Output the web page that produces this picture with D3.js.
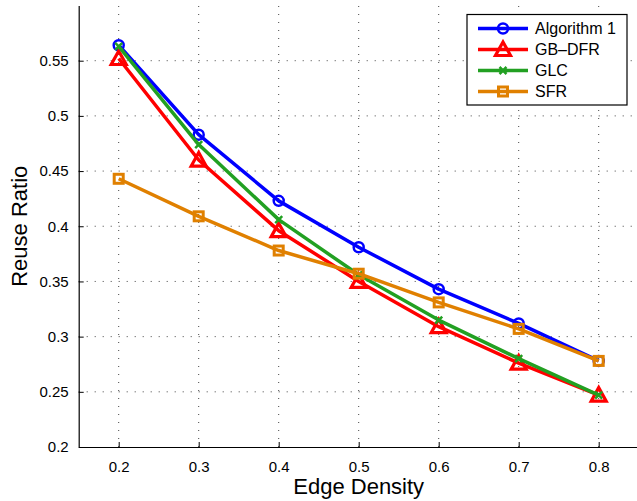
<!DOCTYPE html>
<html>
<head>
<meta charset="utf-8">
<script src="https://cdn.jsdelivr.net/npm/d3@7"></script>
<style>
html,body{margin:0;padding:0;background:#fff;}
svg{display:block;font-family:"Liberation Sans",Arial,Helvetica,sans-serif;}
</style>
</head>
<body>
<svg id="chart" width="637" height="501"></svg>
<script>
const xValues = [0.2, 0.3, 0.4, 0.5, 0.6, 0.7, 0.8];
const algorithm1 = [0.564, 0.483, 0.423, 0.381, 0.343, 0.312, 0.278];
const gbdfr = [0.552, 0.460, 0.396, 0.350, 0.309, 0.276, 0.247];
const glc = [0.563, 0.474, 0.406, 0.356, 0.315, 0.280, 0.247];
const sfr = [0.443, 0.409, 0.378, 0.357, 0.331, 0.307, 0.278];
const seriesNames = ["Algorithm 1", "GB\u2013DFR", "GLC", "SFR"];
const xTicks = [0.2, 0.3, 0.4, 0.5, 0.6, 0.7, 0.8];
const yTicks = [0.2, 0.25, 0.3, 0.35, 0.4, 0.45, 0.5, 0.55];
const xLabel = "Edge Density";
const yLabel = "Reuse Ratio";

const series = [
  {name: seriesNames[0], values: algorithm1, color: "#0000ff", marker: "circle"},
  {name: seriesNames[1], values: gbdfr, color: "#ff0000", marker: "triangle"},
  {name: seriesNames[2], values: glc, color: "#22a022", marker: "x"},
  {name: seriesNames[3], values: sfr, color: "#e08000", marker: "square"}
];

const svg = d3.select("#chart");
const L = 78.7, R = 638.7, T = 5.5, B = 447;
const x = d3.scaleLinear().domain([0.15, 0.85]).range([L, R]);
const y = d3.scaleLinear().domain([0.2, 0.6]).range([B, T]);

// grid
const grid = svg.append("g");
xTicks.forEach(t => {
  grid.append("line").attr("x1", x(t)).attr("x2", x(t)).attr("y1", B).attr("y2", T)
    .attr("stroke", "#444").attr("stroke-width", 1).attr("stroke-dasharray", "1,7");
});
yTicks.slice(1).forEach(t => {
  grid.append("line").attr("x1", L).attr("x2", R).attr("y1", y(t)).attr("y2", y(t))
    .attr("stroke", "#444").attr("stroke-width", 1).attr("stroke-dasharray", "1,7");
});

// axes
const xAxis = d3.axisBottom(x).tickValues(xTicks).tickSizeInner(-5).tickSizeOuter(0).tickPadding(14)
  .tickFormat(d3.format(".1f"));
const yAxis = d3.axisLeft(y).tickValues(yTicks).tickSizeInner(-5).tickSizeOuter(0).tickPadding(10)
  .tickFormat(d => d3.format("")(+d.toFixed(2)));
const gx = svg.append("g").attr("transform", `translate(0,${B})`).call(xAxis);
const gy = svg.append("g").attr("transform", `translate(${L},0)`).call(yAxis);
[gx, gy].forEach(g => {
  g.select(".domain").attr("stroke", "#000").attr("stroke-width", 1.2);
  g.selectAll(".tick line").attr("stroke", "#000");
  g.selectAll(".tick text").attr("font-size", 15).attr("fill", "#000")
    .attr("font-family", "'Liberation Sans',Arial,sans-serif");
});
gx.selectAll(".tick text").attr("dy", "0.71em");

// labels
svg.append("text").attr("x", (L + R) / 2).attr("y", 494).attr("text-anchor", "middle")
  .attr("font-size", 22).text(xLabel);
svg.append("text").attr("transform", `translate(27,${(T + B) / 2}) rotate(-90)`)
  .attr("text-anchor", "middle").attr("font-size", 22).text(yLabel);

function drawMarker(g, type, cx, cy, color) {
  if (type === "circle") {
    g.append("circle").attr("cx", cx).attr("cy", cy).attr("r", 5)
      .attr("fill", "none").attr("stroke", color).attr("stroke-width", 2.5);
  } else if (type === "triangle") {
    const s = 7.5;
    g.append("path").attr("d", `M${cx},${cy - s}L${cx + s},${cy + s * 0.8}L${cx - s},${cy + s * 0.8}Z`)
      .attr("fill", "none").attr("stroke", color).attr("stroke-width", 3.2);
  } else if (type === "x") {
    const s = 3.5;
    g.append("path").attr("d", `M${cx - s},${cy - s}L${cx + s},${cy + s}M${cx - s},${cy + s}L${cx + s},${cy - s}`)
      .attr("fill", "none").attr("stroke", color).attr("stroke-width", 2.5);
  } else if (type === "square") {
    const s = 4.5;
    g.append("rect").attr("x", cx - s).attr("y", cy - s).attr("width", 2 * s).attr("height", 2 * s)
      .attr("fill", "none").attr("stroke", color).attr("stroke-width", 3);
  }
}

const line = d3.line().x((d, i) => x(xValues[i])).y(d => y(d));
series.forEach(s => {
  const g = svg.append("g");
  g.append("path").datum(s.values).attr("d", line).attr("fill", "none")
    .attr("stroke", s.color).attr("stroke-width", 3.5).attr("stroke-linejoin", "round");
  s.values.forEach((v, i) => drawMarker(g, s.marker, x(xValues[i]), y(v), s.color));
});

// legend
const lg = svg.append("g");
lg.append("rect").attr("x", 467).attr("y", 14.5).attr("width", 160).attr("height", 90.5)
  .attr("fill", "#fff").attr("stroke", "#000").attr("stroke-width", 1.2);
series.forEach((s, i) => {
  const yy = 28.5 + i * 21;
  lg.append("line").attr("x1", 478).attr("x2", 528).attr("y1", yy).attr("y2", yy)
    .attr("stroke", s.color).attr("stroke-width", 3.5);
  drawMarker(lg, s.marker, 503, yy, s.color);
  lg.append("text").attr("x", 535).attr("y", yy).attr("dy", "0.35em")
    .attr("font-size", 16).text(s.name);
});
</script>
</body>
</html>
